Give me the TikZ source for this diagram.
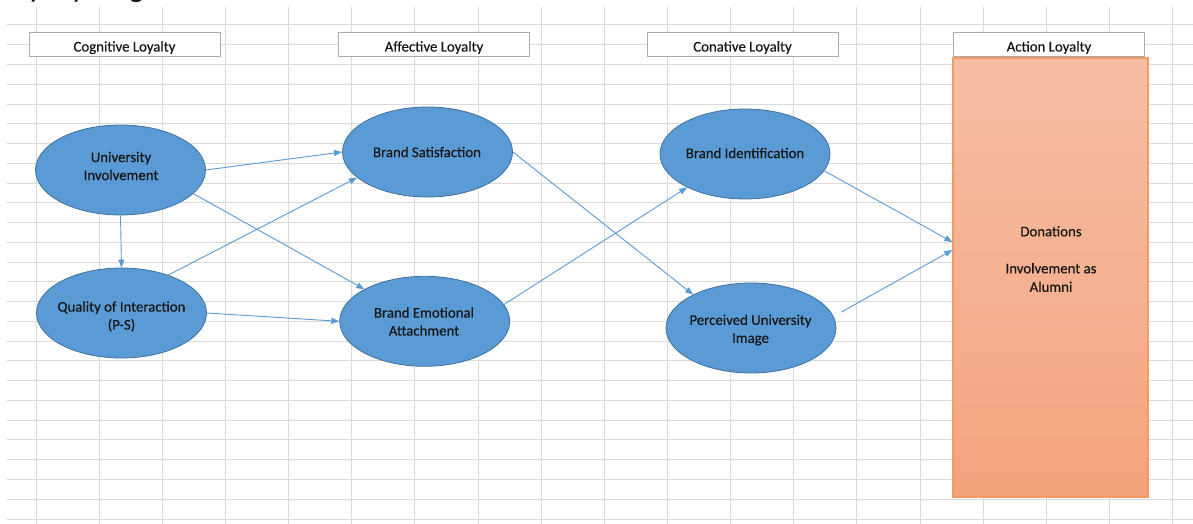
\documentclass[tikz,border=0pt]{standalone}
\usepackage{fontspec}
\setmainfont{Carlito}
\newfontfamily\labfont{Carlito}[FakeBold=0.35]
\usetikzlibrary{shapes.geometric,arrows.meta}
\definecolor{gridc}{HTML}{DADADA}
\definecolor{ellfill}{HTML}{5B9BD5}
\definecolor{elldraw}{HTML}{41719C}
\definecolor{arrc}{HTML}{5B9BD5}
\definecolor{acttop}{HTML}{F6BEA5}
\definecolor{actbot}{HTML}{F4A47D}
\definecolor{actdraw}{HTML}{F39C62}
\definecolor{txtc}{HTML}{161616}
\tikzset{
  gridline/.style={draw=gridc, line width=1pt},
  construct/.style={ellipse, fill=ellfill, draw=elldraw, line width=0.8pt,
    minimum width=170pt, minimum height=90pt, inner sep=0pt},
  ctext/.style={align=center, inner sep=0pt, text=txtc,
    font=\labfont\fontsize{14.8}{18}\selectfont},
  header/.style={rectangle, fill=white, draw=gray!65, line width=0.8pt,
    minimum width=191pt, minimum height=24pt, inner sep=0pt,
    text height=15pt, text depth=0pt,
    text=txtc, font=\labfont\fontsize{14.8}{18}\selectfont},
  link/.style={draw=arrc, line width=0.9pt, -{Triangle[length=8pt,width=6pt]}},
}
\begin{document}
\begin{tikzpicture}[x=1pt,y=-1pt]
\useasboundingbox (0,0) rectangle (1193,524);
\clip (0,0) rectangle (1193,524);
\fill[white] (0,0) rectangle (1193,524);
% spreadsheet grid
\foreach \k in {0,...,18} \draw[gridline] ({36+63.15*\k},7) -- ({36+63.15*\k},524);
\foreach \k in {0,...,25} \draw[gridline] (7,{25+19.76*\k}) -- (1193,{25+19.76*\k});
% cut-off title at the very top
\node[anchor=base west, inner sep=0pt, text=txtc, font=\labfont\fontsize{29}{34}\selectfont] (title) at (1,-3) {Loyalty Diagram};
% headers
\node[header] (h1) at (124.5,44) {Cognitive Loyalty};
\node[header] (h2) at (434,44) {Affective Loyalty};
\node[header] (h3) at (742.5,44) {Conative Loyalty};
\node[header] (h4) at (1049,44) {Action Loyalty};
% action loyalty box
\node[rectangle, draw=actdraw, line width=1.2pt, top color=acttop, bottom color=actbot,
  minimum width=195pt, minimum height=439pt, inner sep=0pt] (act) at (1050.5,277.5) {};
\node[align=center, text=txtc, font=\labfont\fontsize{14.8}{18.5}\selectfont] (acttext) at (1051,259)
  {Donations\\[18.5pt]Involvement as\\Alumni};
% constructs
\node[construct] (ui)  at (120.5,170) {};
\node[construct] (qi)  at (121.5,313) {};
\node[construct] (bs)  at (427.5,152) {};
\node[construct] (bea) at (424.7,321.3) {};
\node[construct] (bi)  at (745,154) {};
\node[construct] (pui) at (751,328) {};
\node[ctext] (uit)  at (121,166) {University\\Involvement};
\node[ctext] (qit)  at (121.5,316.5) {Quality of Interaction\\(P-S)};
\node[ctext] (bst)  at (427,152) {Brand Satisfaction};
\node[ctext] (beat) at (424,321.5) {Brand Emotional\\Attachment};
\node[ctext] (bit)  at (745,153) {Brand Identification};
\node[ctext] (puit) at (750.5,330) {Perceived University\\Image};
% links
\draw[link] (ui.east) -- (bs.west);
\draw[link] (ui.-18) -- (bea.152);
\draw[link] (ui.south) -- (qi.north);
\draw[link] (qi.39) -- (bs.200);
\draw[link] (qi.east) -- (bea.west);
\draw[link] (bs.east) -- (pui.150);
\draw[link] (bea.12) -- (bi.210);
\draw[link] (bi.-12) -- ([yshift=35.5pt]act.west);
\draw[link] ([shift={(5pt,16pt)}]pui.east) -- ([yshift=27.5pt]act.west);
\end{tikzpicture}
\end{document}
